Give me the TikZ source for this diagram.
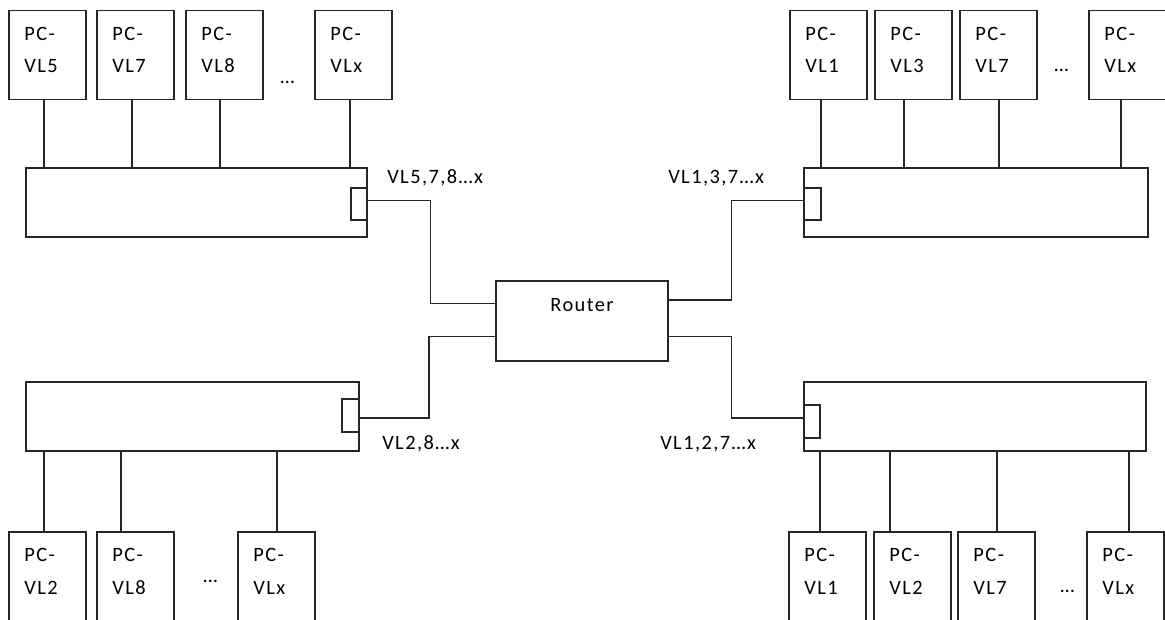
\documentclass[tikz,border=0pt]{standalone}
\usepackage{fontspec}
\setmainfont{Carlito}[LetterSpace=7]
\usetikzlibrary{calc}
\tikzset{
  ln/.style={line width=0.95pt, draw=black!85},
  rect/.style 2 args={ln, rectangle, inner sep=0pt, outer sep=0pt, anchor=north west,
    minimum width={#1*0.75pt}, minimum height={#2*0.75pt}},
  pc/.style={rect={77}{89}},
  pctext/.style={anchor=north west, inner sep=0pt, xshift=11.4pt, yshift=-12.2pt,
    align=left, text width=40pt, font=\fontsize{15.3}{24.3}\selectfont},
  lbl/.style={anchor=base west, inner sep=0pt, font=\fontsize{15.3}{18}\selectfont},
  dotsl/.style={anchor=base, inner sep=0pt, font=\fontsize{15.3}{18}\selectfont},
}
\begin{document}
\begin{tikzpicture}[x=0.75pt, y=-0.75pt]
\useasboundingbox (0,0) rectangle (1165,619);
\clip (0,0) rectangle (1165,619);

% switches
\node[rect={341}{69}] (sw1) at (26,168) {};
\node[rect={344}{69}] (sw3) at (804,168) {};
\node[rect={333}{69}] (sw2) at (26,382) {};
\node[rect={342}{69}] (sw4) at (804,382) {};

% ports
\node[rect={16}{32}] (pt1) at (351,188) {};
\node[rect={17}{32}] (pt3) at (804,188) {};
\node[rect={17}{33}] (pt2) at (342,399) {};
\node[rect={16}{33}] (pt4) at (804,405) {};

% router
\node[rect={172}{80}, label={[lbl, anchor=base, yshift=-23pt]north:Router}] (router) at (496,281) {};

% top-left PCs
\foreach \nm/\xx/\lab/\cx in {tl1/9/5/44, tl2/97/7/132, tl3/186/8/220, tl4/315/x/350} {
  \node[pc, label={[pctext]north west:PC-\\VL\lab}] (\nm) at (\xx,10.7) {};
  \draw[ln] (\cx,0 |- \nm.south) -- (\cx,0 |- sw1.north);
}
% top-right PCs
\foreach \nm/\xx/\lab/\cx in {tr1/790/1/821, tr2/875/3/904, tr3/960/7/999, tr4/1089/x/1121} {
  \node[pc, label={[pctext]north west:PC-\\VL\lab}] (\nm) at (\xx,10.7) {};
  \draw[ln] (\cx,0 |- \nm.south) -- (\cx,0 |- sw3.north);
}
% bottom-left PCs
\foreach \nm/\xx/\lab/\cx in {bl1/9/2/44, bl2/97/8/121, bl3/238/x/277} {
  \node[pc, label={[pctext]north west:PC-\\VL\lab}] (\nm) at (\xx,532) {};
  \draw[ln] (\cx,0 |- sw2.south) -- (\cx,0 |- \nm.north);
}
% bottom-right PCs
\foreach \nm/\xx/\lab/\cx in {br1/789/1/820, br2/874/2/890, br3/958/7/997, br4/1087/x/1129} {
  \node[pc, label={[pctext]north west:PC-\\VL\lab}] (\nm) at (\xx,532) {};
  \draw[ln] (\cx,0 |- sw4.south) -- (\cx,0 |- \nm.north);
}

% dots
\node[dotsl] (d1) at (287.5,83) {…};
\node[dotsl] (d2) at (1061.5,71) {…};
\node[dotsl] (d3) at (210.5,582) {…};
\node[dotsl] (d4) at (1067.5,592) {…};

% router links
\coordinate (r1) at ($(router.north west)+(0,22.7)$);
\coordinate (r2) at ($(router.north west)+(0,55.7)$);
\coordinate (r3) at ($(router.north east)+(0,19)$);
\coordinate (r4) at ($(router.north east)+(0,55.7)$);
\coordinate (q1) at ($(pt1.north east)+(0,12.7)$);
\coordinate (q2) at ($(pt2.north east)+(0,19)$);
\coordinate (q3) at ($(pt3.north west)+(0,12.7)$);
\coordinate (q4) at ($(pt4.north west)+(0,13)$);
\draw[ln] (q1) -- ++(63.7,0) |- (r1);
\draw[ln] (q2) -- ++(70,0) |- (r2);
\draw[ln] (r3) -- ++(63.3,0) |- (q3);
\draw[ln] (r4) -- ++(63.3,0) |- (q4);

% link labels
\node[lbl] (l1) at (387,183.5) {VL5,7,8…x};
\node[lbl] (l3) at (668,183.5) {VL1,3,7…x};
\node[lbl] (l2) at (382,449) {VL2,8…x};
\node[lbl] (l4) at (660,449) {VL1,2,7…x};
\end{tikzpicture}
\end{document}
